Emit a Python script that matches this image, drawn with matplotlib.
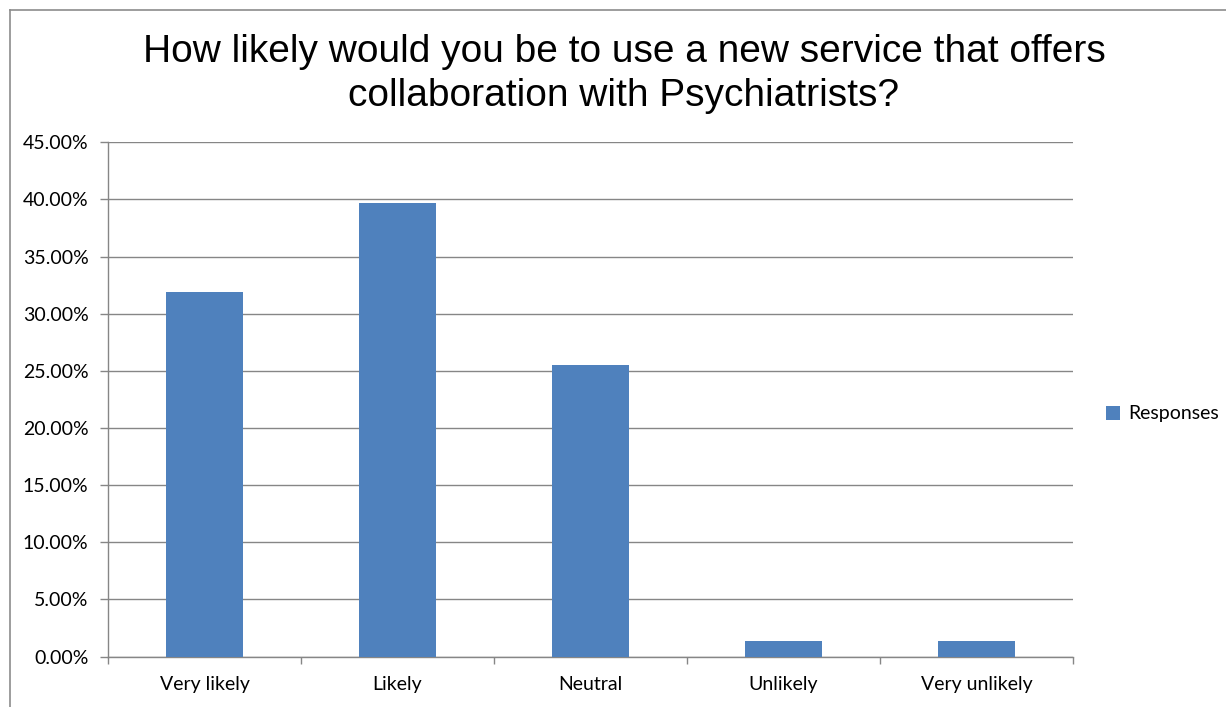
import matplotlib.pyplot as plt
from matplotlib.ticker import FuncFormatter, FixedLocator
import numpy as np

categories = ['Very likely', 'Likely', 'Neutral', 'Unlikely', 'Very unlikely']
responses = [31.94, 39.72, 25.51, 1.39, 1.39]
series_name = 'Responses'
title = 'How likely would you be to use a new service that offers\ncollaboration with Psychiatrists?'

bar_color = '#4F81BD'
grid_color = '#868686'

W, H = 1226, 707
fig = plt.figure(figsize=(W / 100, H / 100), dpi=100)

# outer chart frame (only top and left edges show)
fig.add_artist(plt.Line2D([10 / W, 10 / W], [0, 1 - 9.5 / H], color='#8c8c8c', lw=1.2))
fig.add_artist(plt.Line2D([10 / W, 1], [1 - 9.5 / H, 1 - 9.5 / H], color='#8c8c8c', lw=1.2))

x0, x1 = 108, 1073
y0, y1 = 656.5, 142.3
ax = fig.add_axes([x0 / W, (H - y0) / H, (x1 - x0) / W, (y0 - y1) / H])

x = np.arange(len(categories))
ax.bar(x, responses, width=0.4, color=bar_color, label=series_name, zorder=3)

ax.set_xlim(-0.5, len(categories) - 0.5)
ax.set_ylim(0, 45)
ax.set_yticks(np.arange(0, 45.1, 5))
ax.yaxis.set_major_formatter(FuncFormatter(lambda v, p: f'{v:.2f}%'))
ax.grid(axis='y', color=grid_color, lw=1.0, zorder=0)

ax.set_xticks(x)
ax.set_xticklabels(categories)
ax.xaxis.set_minor_locator(FixedLocator(np.arange(-0.5, len(categories), 1)))
ax.tick_params(axis='x', which='major', length=0, pad=14, labelsize=14)
ax.tick_params(axis='x', which='minor', length=5, color=grid_color, width=1)
ax.tick_params(axis='y', length=6, color=grid_color, width=1, labelsize=14, pad=8)
for lab in ax.get_xticklabels() + ax.get_yticklabels():
    lab.set_fontfamily('Lato')

for side in ['top', 'right']:
    ax.spines[side].set_visible(False)
for side in ['left', 'bottom']:
    ax.spines[side].set_color(grid_color)
    ax.spines[side].set_linewidth(1)

fig.text(624 / W, 1 - 74 / H, title, ha='center', va='center',
         fontsize=28, family='Liberation Sans', linespacing=1.3)

leg = fig.legend(loc='center left', bbox_to_anchor=(1088 / W, 1 - 414 / H),
                 frameon=False, prop={'family': 'Lato', 'size': 14},
                 handlelength=0.75, handleheight=0.75, handletextpad=0.4)

fig.savefig('out.png', dpi=100, facecolor='white')
